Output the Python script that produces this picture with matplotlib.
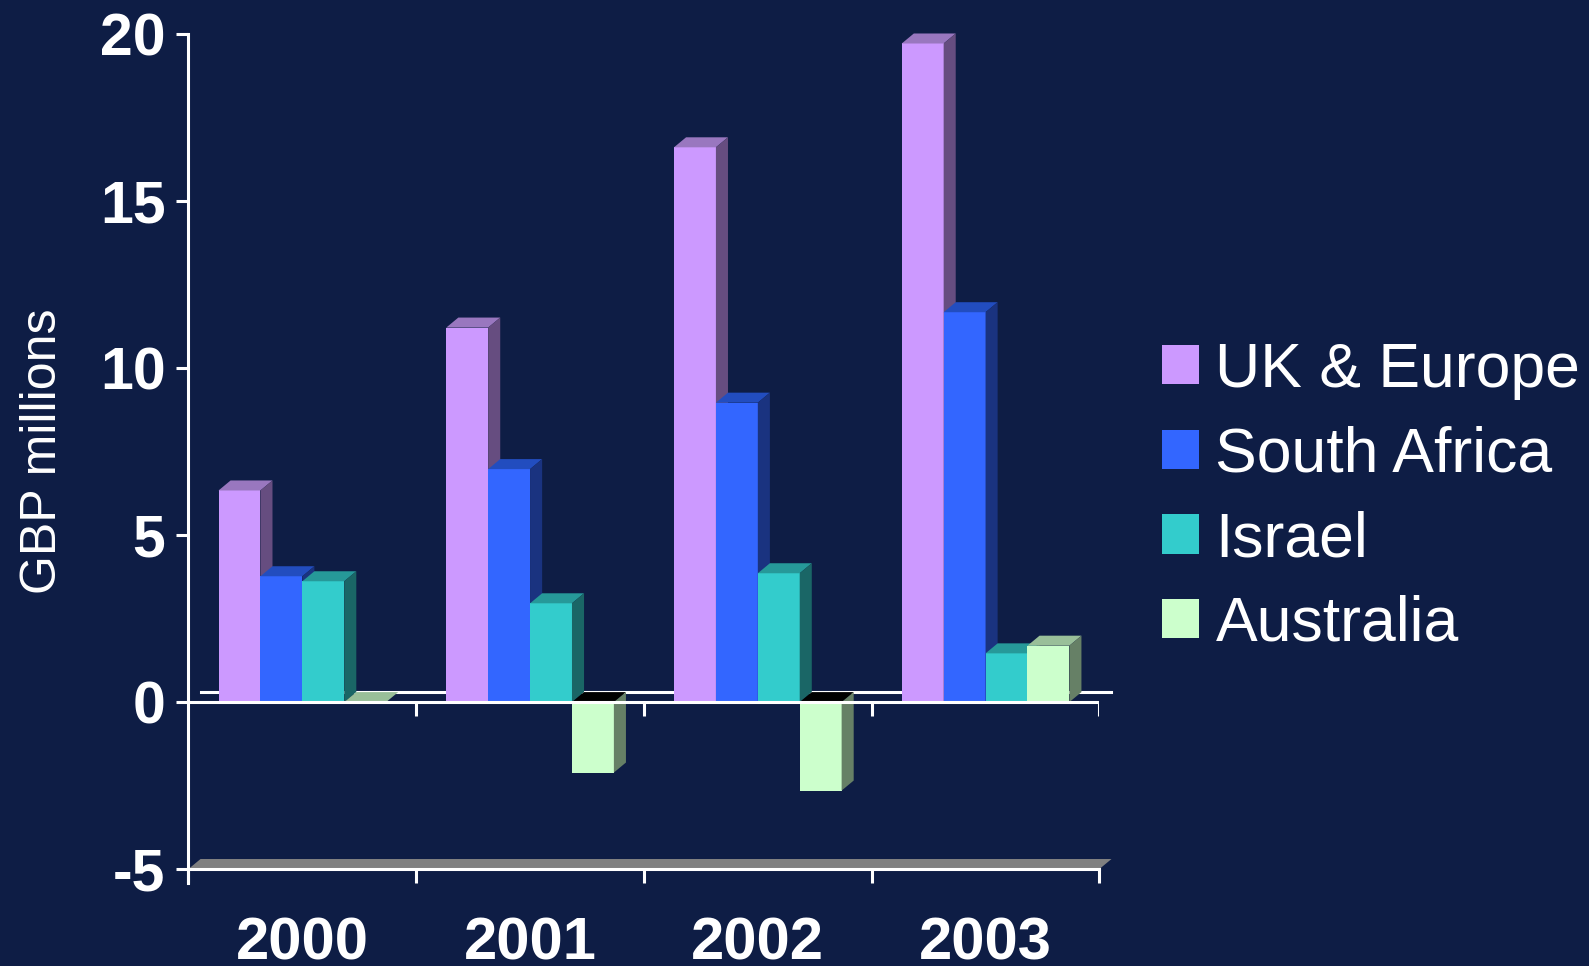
import numpy as np
import matplotlib
matplotlib.use("Agg")
import matplotlib.pyplot as plt
from matplotlib.patches import Polygon, Patch

years = ["2000", "2001", "2002", "2003"]
regions = ["UK & Europe", "South Africa", "Israel", "Australia"]
uk_europe = [6.34, 11.22, 16.62, 19.73]
south_africa = [3.77, 6.98, 8.97, 11.68]
israel = [3.62, 2.96, 3.86, 1.46]
australia = [0.0, -2.11, -2.65, 1.69]
y_ticks = [20, 15, 10, 5, 0, -5]

front_colors = ["#CC99FF", "#3366FF", "#33CCCC", "#CCFFCC"]
top_colors = ["#9977BF", "#224DBF", "#269999", "#99BF99"]
side_colors = ["#664D80", "#1A3380", "#1A6666", "#668066"]
bg = "#0E1D45"

plt.rcParams["font.family"] = ["Liberation Sans", "DejaVu Sans"]

fig = plt.figure(figsize=(15.89, 9.66), dpi=100, facecolor=bg)
ax = fig.add_axes([0.1186, 0.1004, 0.5733, 0.8639])
ax.set_facecolor(bg)
ax.set_xlim(0, 4)
ax.set_ylim(-5, 20)

# fake 3d depth, in data units
dx = 0.053
dy = 0.30
w = 0.184
lw = 2.2

series = [uk_europe, south_africa, israel, australia]
centers = np.arange(len(years)) + 0.5

# floor slab at -5 and back zero line
ax.add_patch(Polygon([(0, -5), (4, -5), (4 + dx, -5 + dy), (dx, -5 + dy)],
                     closed=True, facecolor="#808080", edgecolor="none",
                     zorder=1, clip_on=False))
ax.axhline(dy, xmin=dx / 4, xmax=(4 + dx) / 4, color="white", lw=lw,
           zorder=1, clip_on=False)

z = 3
for j in range(len(years)):
  for i, vals in enumerate(series):
    v = vals[j]
    left = centers[j] + (i - 2) * w
    right = left + w
    t = max(v, 0)
    b = min(v, 0)
    ax.bar(left, v, width=w, align="edge", color=front_colors[i],
           linewidth=0, zorder=z, clip_on=False)
    top_col = top_colors[i] if v >= 0 else "black"
    ax.add_patch(Polygon([(left, t), (right, t), (right + dx, t + dy),
                          (left + dx, t + dy)], closed=True,
                         facecolor=top_col, edgecolor="none",
                         zorder=z, clip_on=False))
    ax.add_patch(Polygon([(right, b), (right, t), (right + dx, t + dy),
                          (right + dx, b + dy)], closed=True,
                         facecolor=side_colors[i], edgecolor="none",
                         zorder=z, clip_on=False))
    z += 1

# front zero line with ticks at category boundaries
ax.axhline(0, color="white", lw=lw, zorder=50)
ax.vlines(np.arange(1, 5), -0.42, 0, color="white", lw=lw, zorder=50)

# axes styling
for s in ["top", "right"]:
  ax.spines[s].set_visible(False)
ax.spines["left"].set_color("white")
ax.spines["left"].set_linewidth(lw)
ax.spines["left"].set_bounds(-5.42, 20)
ax.spines["bottom"].set_color("white")
ax.spines["bottom"].set_linewidth(lw)
ax.spines["left"].set_zorder(60)
ax.spines["bottom"].set_zorder(60)

ax.set_yticks(y_ticks, [str(t) for t in y_ticks])
ax.tick_params(axis="y", colors="white", length=8.6, width=lw, pad=8.0,
               labelsize=42.5)
for lab in ax.get_yticklabels():
  lab.set_fontweight("bold")

ax.set_xticks(centers, years)
ax.set_xticks(np.arange(0, 5), minor=True)
ax.tick_params(axis="x", which="major", length=0, pad=34, colors="white",
               labelsize=43)
ax.tick_params(axis="x", which="minor", length=10, width=lw, color="white")
for lab in ax.get_xticklabels():
  lab.set_fontweight("bold")

fig.text(43.5 / 1589, 1 - 451 / 966, "GBP millions", rotation=90,
         color="white", fontsize=36, ha="center", va="center")

handles = [Patch(facecolor=c, edgecolor="none") for c in front_colors]
fig.legend(handles, regions, loc="center left",
           bbox_to_anchor=(0.7315, 0.4853), frameon=False, fontsize=45,
           labelcolor="white", handlelength=0.59, handleheight=0.59,
           handletextpad=0.26, labelspacing=0.41, borderpad=0,
           borderaxespad=0)

fig.savefig("out.png", dpi=100, facecolor=bg)
